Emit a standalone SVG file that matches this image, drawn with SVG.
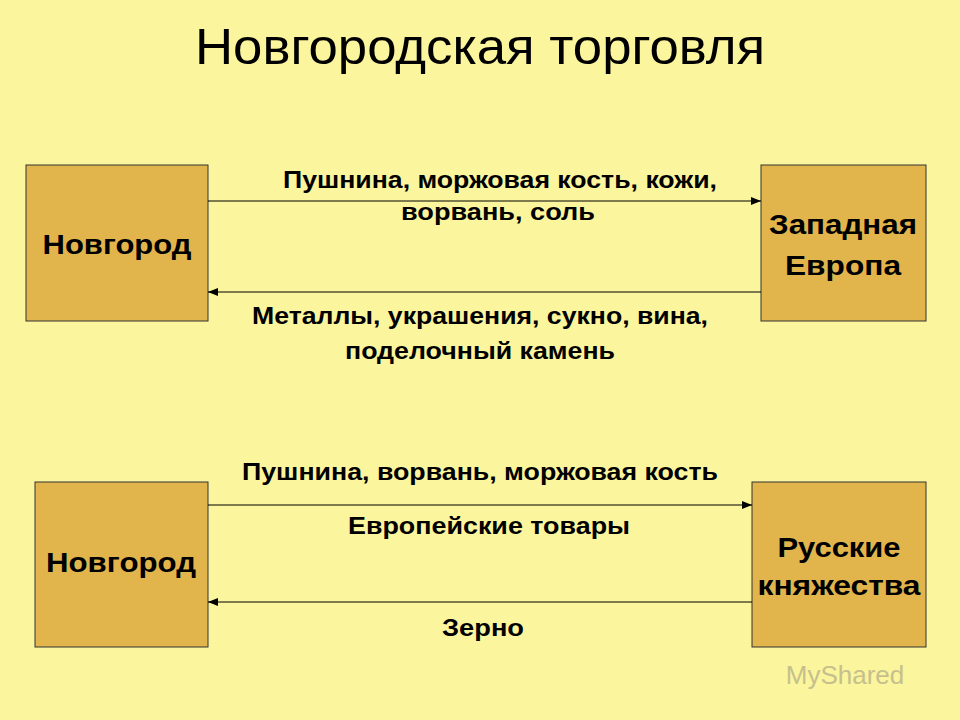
<svg xmlns="http://www.w3.org/2000/svg" width="960" height="720" viewBox="0 0 960 720">
<style>
.box{fill:#E1B54C;stroke:#333;stroke-width:1}
.t{font-family:"Liberation Sans",Arial,sans-serif;font-weight:bold;fill:#000;text-anchor:middle}
.n{font-size:28px}
.l{font-size:23px}
.c{stroke:#000;stroke-width:1.2;fill:none;marker-end:url(#a)}
</style>
<defs><marker id="a" markerWidth="10" markerHeight="8" refX="10" refY="4" orient="auto" markerUnits="userSpaceOnUse"><path d="M0,0 L10,4 L0,8 Z" fill="#000"/></marker></defs>
<rect width="960" height="720" fill="#FBF59D"/>
<text x="480" y="64" font-family="Liberation Sans,Arial,sans-serif" font-size="50" text-anchor="middle" fill="#000" textLength="570" lengthAdjust="spacingAndGlyphs">Новгородская торговля</text>
<g id="n1"><rect class="box" x="26" y="165" width="182" height="156"/><text class="t n" x="117" y="254" textLength="149" lengthAdjust="spacingAndGlyphs">Новгород</text></g>
<g id="n2"><rect class="box" x="761" y="165" width="165" height="156"/><text class="t n" x="843" y="234" textLength="148" lengthAdjust="spacingAndGlyphs">Западная</text><text class="t n" x="843" y="275" textLength="116" lengthAdjust="spacingAndGlyphs">Европа</text></g>
<g id="n3"><rect class="box" x="35" y="482" width="173" height="165"/><text class="t n" x="121" y="572" textLength="150" lengthAdjust="spacingAndGlyphs">Новгород</text></g>
<g id="n4"><rect class="box" x="752" y="482" width="174" height="165"/><text class="t n" x="839" y="557" textLength="123" lengthAdjust="spacingAndGlyphs">Русские</text><text class="t n" x="839" y="595" textLength="163" lengthAdjust="spacingAndGlyphs">княжества</text></g>
<g id="connectors">
<path class="c" d="M208,201 H761"/>
<path class="c" d="M761,292 H208"/>
<path class="c" d="M208,505 H752"/>
<path class="c" d="M752,602 H208"/>
</g>
<g id="labels">
<text class="t l" x="500" y="188" textLength="434" lengthAdjust="spacingAndGlyphs">Пушнина, моржовая кость, кожи,</text>
<text class="t l" x="498" y="220" textLength="194" lengthAdjust="spacingAndGlyphs">ворвань, соль</text>
<text class="t l" x="480" y="324" textLength="456" lengthAdjust="spacingAndGlyphs">Металлы, украшения, сукно, вина,</text>
<text class="t l" x="480" y="359" textLength="270" lengthAdjust="spacingAndGlyphs">поделочный камень</text>
<text class="t l" x="480" y="480" textLength="476" lengthAdjust="spacingAndGlyphs">Пушнина, ворвань, моржовая кость</text>
<text class="t l" x="489" y="534" textLength="282" lengthAdjust="spacingAndGlyphs">Европейские товары</text>
<text class="t l" x="483" y="636" textLength="82" lengthAdjust="spacingAndGlyphs">Зерно</text>
</g>
<text x="845" y="684" font-family="Liberation Sans,Arial,sans-serif" font-size="26" fill="#B8B48A" text-anchor="middle" opacity="0.8">MyShared</text>
</svg>
